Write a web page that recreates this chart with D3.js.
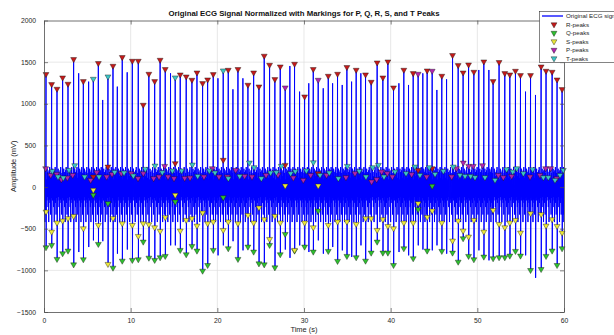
<!DOCTYPE html>
<html>
<head>
<meta charset="utf-8">
<script src="https://cdn.jsdelivr.net/npm/d3@7"></script>
<style>
    body { margin: 0; background: #fff; }
    text { font-family: "Liberation Sans", Arial, sans-serif; fill: #262626; }
</style>
</head>
<body>
<div id="chart"></div>
<script>

// beat spikes (time in s, extremes in mV)
var beatTimes = [
    0.23, 0.88, 1.50, 2.15, 2.77, 3.42, 4.00, 4.54, 5.15, 5.69,
    6.27, 6.77, 7.38, 7.96, 8.46, 9.03, 9.60, 10.19, 10.88, 11.45,
    12.10, 12.77, 13.40, 13.99, 14.60, 15.14, 15.72, 16.41, 17.07, 17.65,
    18.30, 18.88, 19.53, 20.07, 20.68, 21.26, 21.80, 22.38, 22.95, 23.53,
    24.19, 24.80, 25.41, 26.03, 26.64, 27.26, 27.83, 28.37, 28.91, 29.49,
    30.07, 30.55, 31.07, 31.64, 32.22, 32.80, 33.30, 33.87, 34.41, 34.95,
    35.49, 36.02, 36.56, 37.10, 37.75, 38.44, 39.10, 39.68, 40.33, 40.95,
    41.52, 42.06, 42.60, 43.17, 43.71, 44.21, 44.79, 45.33, 45.90, 46.45,
    47.14, 47.79, 48.36, 48.99, 49.60, 50.17, 50.75, 51.33, 51.82, 52.51,
    53.17, 53.75, 54.40, 54.98, 55.56, 56.14, 56.71, 57.36, 57.93, 58.63,
    59.20, 59.78
];

var beatTops = [
    1355, 1234, 1178, 1314, 1238, 1535, 1366, 1270, 1266, 1298,
    1487, 1046, 1326, 1454, 1206, 1559, 1378, 1514, 1514, 986,
    1358, 1270, 1526, 1415, 1366, 1314, 1350, 1326, 1286, 1374,
    1246, 1290, 1354, 1306, 1398, 1406, 1174, 1415, 1306, 1226,
    1374, 1206, 1575, 1466, 1294, 1446, 1194, 1454, 1478, 1146,
    1086, 1246, 1415, 1286, 1186, 1334, 1246, 1358, 1226, 1439,
    1266, 1406, 1366, 1350, 1262, 1494, 1314, 1506, 1194, 1246,
    1406, 1226, 1366, 1358, 1366, 1398, 1394, 1166, 1334, 1294,
    1583, 1462, 1374, 1470, 1382, 1406, 1506, 1406, 1270, 1499,
    1366, 1350, 1394, 1342, 1146, 1342, 1106, 1446, 1394, 1382,
    1290, 1174
];

var beatBottoms = [
    -725, -697, -865, -797, -765, -930, -780, -869, -720, -640,
    -685, -650, -925, -970, -800, -886, -750, -877, -869, -657,
    -850, -877, -845, -829, -700, -700, -757, -809, -709, -765,
    -1006, -938, -757, -820, -700, -737, -650, -865, -760, -717,
    -777, -918, -930, -697, -966, -809, -750, -850, -765, -700,
    -717, -780, -777, -640, -800, -769, -720, -889, -760, -829,
    -840, -845, -700, -886, -789, -657, -789, -789, -938, -780,
    -737, -820, -857, -700, -750, -765, -760, -700, -769, -800,
    -789, -898, -617, -829, -869, -760, -837, -880, -857, -845,
    -845, -825, -769, -825, -820, -998, -1090, -986, -829, -765,
    -938, -737
];

// noisy baseline between two beats (mV), as it looks in the picture
var baselineWave = [90, -160, 220, -120, 180, -240, 130, -420, 200, -150, 240, -190, 110, -330, 170, -130];

var rPeaks = [
    [0.23, 1355], [0.88, 1234], [1.50, 1178], [2.15, 1314], [2.77, 1238], [3.42, 1535], [4.54, 1270], [5.69, 124],
    [6.27, 1487], [7.38, 244], [7.96, 1454], [9.03, 1559], [10.19, 1514], [10.88, 1514], [11.45, 986], [12.10, 1358],
    [12.77, 1270], [13.40, 1526], [13.99, 1415], [15.14, 285], [15.72, 1350], [16.41, 1326], [17.07, 1286], [17.65, 1374],
    [18.30, 1246], [18.88, 1290], [19.53, 1354], [20.68, 325], [21.26, 1406], [22.38, 1415], [23.53, 1226], [24.19, 1374],
    [24.80, 1206], [25.41, 1575], [26.03, 1466], [26.64, 1294], [27.26, 1446], [27.83, 264], [28.91, 1478], [30.07, 1086],
    [31.07, 1415], [31.64, 164], [32.80, 1334], [33.87, 1358], [34.95, 1439], [36.02, 1406], [37.10, 1350], [37.75, 1262],
    [38.44, 1494], [39.10, 1314], [39.68, 1506], [40.33, 1194], [41.52, 1406], [42.60, 1366], [43.17, 204], [44.21, 1398],
    [44.79, 224], [45.90, 1334], [47.14, 1583], [47.79, 1462], [48.36, 1374], [48.99, 1470], [49.60, 1382], [50.75, 1506],
    [51.82, 1270], [52.51, 1499], [53.17, 1366], [53.75, 1350], [54.40, 1394], [54.98, 1342], [56.14, 1342], [57.36, 1446],
    [57.93, 1394], [58.63, 1382], [59.20, 1290], [59.78, 1174]
];

var qPeaks = [
    [0.23, -725], [0.88, -697], [1.50, -865], [2.15, -797], [2.77, -765], [3.42, -930], [4.54, -869], [5.69, -96],
    [6.27, -685], [7.38, -196], [7.96, -970], [9.03, -886], [10.19, -877], [10.88, -869], [11.45, -657], [12.10, -850],
    [12.77, -877], [13.40, -845], [13.99, -829], [15.14, -176], [15.72, -757], [16.41, -809], [17.07, -709], [17.65, -765],
    [18.30, -1006], [18.88, -938], [19.53, -757], [20.68, -124], [21.26, -737], [22.38, -865], [23.53, -717], [24.19, -777],
    [24.80, -918], [25.41, -930], [26.03, -697], [26.64, -966], [27.26, -809], [27.83, -565], [28.91, -765], [30.07, -717],
    [31.07, -777], [31.64, -285], [32.80, -769], [33.87, -889], [34.95, -829], [36.02, -845], [37.10, -886], [37.75, -789],
    [38.44, -657], [39.10, -789], [39.68, -789], [40.33, -938], [41.52, -737], [42.60, -857], [43.17, -268], [44.21, -765],
    [44.79, 12], [45.90, -769], [47.14, -789], [47.79, -898], [48.36, -617], [48.99, -829], [49.60, -869], [50.75, -837],
    [51.82, -857], [52.51, -845], [53.17, -845], [53.75, -825], [54.40, -769], [54.98, -825], [56.14, -998], [57.36, -986],
    [57.93, -829], [58.63, -765], [59.20, -938], [59.78, -737]
];

var sPeaks = [
    [0.23, -297], [0.88, -537], [1.50, -429], [2.15, -405], [2.77, -376], [3.42, -349], [4.54, -497], [5.69, -36],
    [6.27, -457], [7.38, -925], [7.96, -376], [9.03, -437], [10.19, -457], [10.88, -589], [11.45, -437], [12.10, -449],
    [12.77, -485], [13.40, -529], [13.99, -364], [15.14, -96], [15.72, -525], [16.41, -397], [17.07, -377], [17.65, -465],
    [18.30, -309], [18.88, -437], [19.53, -417], [20.68, -517], [21.26, -417], [22.38, -437], [23.53, -337], [24.19, -429],
    [24.80, -248], [25.41, -389], [26.03, -625], [26.64, -349], [27.26, -429], [27.83, 16], [28.91, -757], [30.07, -429],
    [31.07, -485], [31.64, 16], [32.80, -457], [33.87, -417], [34.95, -417], [36.02, -445], [37.10, -377], [37.75, -377],
    [38.44, -517], [39.10, -389], [39.68, -469], [40.33, -497], [41.52, -429], [42.60, -429], [43.17, -196], [44.21, -361],
    [44.79, -285], [45.90, -429], [47.14, -645], [47.79, -405], [48.36, -525], [48.99, -597], [49.60, -397], [50.75, -537],
    [51.82, -277], [52.51, -445], [53.17, -485], [53.75, -429], [54.40, -397], [54.98, -549], [56.14, -316], [57.36, -328],
    [57.93, -465], [58.63, -389], [59.20, -469], [59.78, -549]
];

var pPeaks = [
    [0.19, 224], [0.77, 144], [1.46, 156], [2.00, 92], [2.69, 112], [3.31, 144], [5.38, 84], [6.08, 176],
    [7.23, 124], [7.85, 156], [8.92, 164], [10.08, 164], [10.85, 104], [11.46, 164], [12.65, 104], [13.27, 124],
    [13.92, 252], [14.31, 124], [15.00, 104], [16.23, 108], [16.85, 112], [18.46, 124], [19.42, 224], [20.19, 124],
    [21.15, 124], [22.12, 204], [23.15, 132], [24.00, 124], [25.62, 144], [27.00, 148], [27.83, 1194], [28.77, 112],
    [29.92, 84], [30.77, 144], [31.64, 1286], [32.60, 144], [34.84, 116], [35.88, 164], [37.80, 64], [38.38, 92],
    [38.96, 184], [39.60, 164], [40.20, 124], [42.42, 152], [43.17, 1358], [44.15, 124], [44.79, 1394], [47.04, 124],
    [47.60, 224], [48.38, 292], [49.00, 252], [49.53, 252], [50.60, 260], [52.42, 144], [53.00, 116], [53.96, 132],
    [56.08, 124], [57.23, 144], [57.88, 224], [58.46, 224], [59.15, 104]
];

var tPeaks = [
    [0.96, 192], [1.62, 124], [2.23, 112], [2.88, 204], [3.54, 260], [4.69, 124], [5.69, 1298], [6.35, 124],
    [7.38, 1326], [8.15, 180], [9.23, 172], [10.31, 136], [11.69, 216], [12.81, 256], [13.65, 176], [14.81, 196],
    [15.14, 1314], [15.88, 196], [17.12, 268], [17.73, 132], [19.08, 196], [19.73, 172], [20.68, 1398], [21.27, 104],
    [22.58, 132], [23.69, 292], [24.23, 236], [25.08, 104], [26.15, 172], [26.81, 176], [27.38, 252], [28.46, 164],
    [29.00, 188], [30.27, 196], [31.08, 296], [31.85, 144], [32.92, 172], [33.96, 104], [35.00, 252], [36.38, 192],
    [37.15, 124], [37.92, 236], [38.58, 264], [39.23, 124], [40.50, 184], [41.77, 164], [42.80, 244], [43.38, 144],
    [44.46, 236], [45.12, 156], [46.08, 192], [47.23, 244], [48.00, 144], [48.58, 132], [49.23, 132], [49.73, 116],
    [50.88, 116], [52.04, 84], [53.38, 212], [54.08, 184], [54.54, 224], [55.31, 164], [56.38, 212], [57.62, 116],
    [58.19, 116], [58.96, 84], [59.54, 144], [59.92, 204]
];

var xTicks = [0, 10, 20, 30, 40, 50, 60];
var yTicks = [-1500, -1000, -500, 0, 500, 1000, 1500, 2000];

var legendItems = [
    {label: "Original ECG signal", type: "line", color: "#0000ff"},
    {label: "R-peaks", type: "marker", color: "#c41a1a"},
    {label: "Q-peaks", type: "marker", color: "#2fbf2f"},
    {label: "S-peaks", type: "marker", color: "#ece83a"},
    {label: "P-peaks", type: "marker", color: "#b224b0"},
    {label: "T-peaks", type: "marker", color: "#3cc6c6"}
];

var W = 614, H = 335;
var plotLeft = 44, plotRight = 564, plotTop = 20.5, plotBottom = 312;

var svg = d3.select("#chart").append("svg")
    .attr("width", W)
    .attr("height", H);

var x = d3.scaleLinear().domain([0, 60]).range([plotLeft, plotRight]);
var y = d3.scaleLinear().domain([-1500, 2000]).range([plotBottom, plotTop]);

// grid
var grid = svg.append("g").attr("class", "grid");
grid.selectAll(".gx").data(xTicks.slice(1, -1)).enter().append("line")
    .attr("x1", function (d) { return x(d); })
    .attr("x2", function (d) { return x(d); })
    .attr("y1", plotTop).attr("y2", plotBottom)
    .style("stroke", "#dedede").style("stroke-width", 0.7);
grid.selectAll(".gy").data(yTicks.slice(1, -1)).enter().append("line")
    .attr("y1", function (d) { return y(d); })
    .attr("y2", function (d) { return y(d); })
    .attr("x1", plotLeft).attr("x2", plotRight)
    .style("stroke", "#dedede").style("stroke-width", 0.7);

// build the signal path from the beats and the baseline
var signal = [[0, baselineWave[0]]];

function addBaseline(t0, t1) {
    var n = baselineWave.length;
    baselineWave.forEach(function (v, k) {
        signal.push([t0 + (t1 - t0) * (k + 0.5) / n, v]);
    });
}

addBaseline(0.02, beatTimes[0] - 0.02);
beatTimes.forEach(function (t, i) {
    signal.push([t, beatTops[i]]);
    signal.push([t + 0.015, beatBottoms[i]]);
    var next = i < beatTimes.length - 1 ? beatTimes[i + 1] : 60.02;
    addBaseline(t + 0.04, next - 0.02);
});
signal.push([60, baselineWave[baselineWave.length - 1]]);

svg.append("clipPath").attr("id", "plotClip")
    .append("rect")
    .attr("x", plotLeft).attr("y", plotTop)
    .attr("width", plotRight - plotLeft).attr("height", plotBottom - plotTop);

var line = d3.line()
    .x(function (d) { return x(d[0]); })
    .y(function (d) { return y(d[1]); });

svg.append("path")
    .datum(signal)
    .attr("clip-path", "url(#plotClip)")
    .attr("d", line)
    .style("fill", "none")
    .style("stroke", "#0000ff")
    .style("stroke-width", 1)
    .style("stroke-linejoin", "miter");

// markers
var tri = d3.symbol().type(d3.symbolTriangle).size(15);

function drawMarkers(data, color) {
    svg.append("g").selectAll("path")
        .data(data)
        .enter()
        .append("path")
        .attr("d", tri)
        .attr("transform", function (d) {
            return "translate(" + x(d[0]) + "," + y(d[1]) + ") rotate(180)";
        })
        .style("fill", color)
        .style("stroke", "#111")
        .style("stroke-width", 0.4);
}

drawMarkers(rPeaks, legendItems[1].color);
drawMarkers(qPeaks, legendItems[2].color);
drawMarkers(sPeaks, legendItems[3].color);
drawMarkers(pPeaks, legendItems[4].color);
drawMarkers(tPeaks, legendItems[5].color);

// axes
var axisColor = "#4d4d4d";

var xAxis = d3.axisBottom(x).tickValues(xTicks).tickSizeInner(-4).tickSizeOuter(0).tickPadding(6).tickFormat(d3.format("d"));
var xAxisTop = d3.axisTop(x).tickValues(xTicks).tickSizeInner(-4).tickSizeOuter(0).tickFormat("");
var yAxis = d3.axisLeft(y).tickValues(yTicks).tickSizeInner(-4).tickSizeOuter(0).tickPadding(8).tickFormat(d3.format("d"));
var yAxisRight = d3.axisRight(y).tickValues(yTicks).tickSizeInner(-4).tickSizeOuter(0).tickFormat("");

function styleAxis(g) {
    g.select(".domain").style("stroke", axisColor).style("stroke-width", 0.8);
    g.selectAll(".tick line").style("stroke", axisColor).style("stroke-width", 0.7);
    g.selectAll(".tick text")
        .style("font-size", "6.8px")
        .style("font-family", "Liberation Sans, Arial, sans-serif")
        .style("fill", "#262626");
}

svg.append("g").attr("transform", "translate(0," + plotBottom + ")").call(xAxis).call(styleAxis);
svg.append("g").attr("transform", "translate(0," + plotTop + ")").call(xAxisTop).call(styleAxis);
svg.append("g").attr("transform", "translate(" + plotLeft + ",0)").call(yAxis).call(styleAxis);
svg.append("g").attr("transform", "translate(" + plotRight + ",0)").call(yAxisRight).call(styleAxis);

// labels
svg.append("text")
    .attr("x", (plotLeft + plotRight) / 2)
    .attr("y", 332)
    .style("text-anchor", "middle")
    .style("font-size", "7.5px")
    .text("Time (s)");

svg.append("text")
    .attr("transform", "translate(16," + ((plotTop + plotBottom) / 2) + ") rotate(-90)")
    .style("text-anchor", "middle")
    .style("font-size", "7.5px")
    .text("Amplitude (mV)");

svg.append("text")
    .attr("x", (plotLeft + plotRight) / 2)
    .attr("y", 15.5)
    .style("text-anchor", "middle")
    .style("font-size", "7.8px")
    .style("font-weight", "bold")
    .style("fill", "#111")
    .text("Original ECG Signal Normalized with Markings for P, Q, R, S, and T Peaks");

// legend (runs past the right edge, as in the original figure)
var legend = svg.append("g").attr("class", "legend");
legend.append("rect")
    .attr("x", 539.5).attr("y", 11.5)
    .attr("width", 120).attr("height", 51)
    .style("fill", "#fff")
    .style("stroke", "#333")
    .style("stroke-width", 0.6);

legendItems.forEach(function (d, i) {
    var ly = 16 + i * 8.5;
    if (d.type === "line") {
        legend.append("line")
            .attr("x1", 542).attr("x2", 563)
            .attr("y1", ly).attr("y2", ly)
            .style("stroke", d.color).style("stroke-width", 1.3);
    } else {
        legend.append("path")
            .attr("d", tri)
            .attr("transform", "translate(554," + ly + ") rotate(180)")
            .style("fill", d.color)
            .style("stroke", "#111")
            .style("stroke-width", 0.4);
    }
    legend.append("text")
        .attr("x", 566)
        .attr("y", ly)
        .attr("dy", "0.35em")
        .style("font-size", "6.2px")
        .text(d.label);
});

</script>
</body>
</html>
